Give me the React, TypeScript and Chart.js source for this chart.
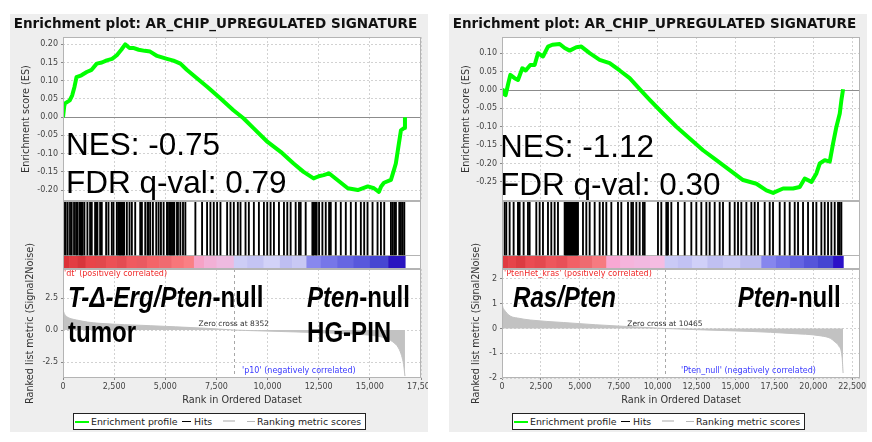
import React, { useEffect, useRef } from "react";
import { Chart, registerables } from "chart.js";
Chart.register(...registerables);

const SANS = "'DejaVu Sans', 'Noto Sans', sans-serif";
const ARIAL = "'Liberation Sans', Arial, sans-serif";

const TITLE = "Enrichment plot: AR_CHIP_UPREGULATED SIGNATURE";
const ES_AXIS_TITLE = "Enrichment score (ES)";
const METRIC_AXIS_TITLE = "Ranked list metric (Signal2Noise)";
const RANK_AXIS_TITLE = "Rank in Ordered Dataset";

// ---------------- LEFT panel data ----------------
const L_RANK_TICKS = [0, 2500, 5000, 7500, 10000, 12500, 15000, 17500];
const L_ES_TICKS = [-0.2, -0.15, -0.1, -0.05, 0, 0.05, 0.1, 0.15, 0.2];
const L_METRIC_TICKS = [-2.5, 0, 2.5];
const L_ES_RANKS = [0, 60, 100, 330, 450, 560, 660, 900, 1160, 1400, 1650, 1900, 2140, 2400, 2630, 2850, 3040, 3250, 3430, 3700, 4000, 4260, 4600, 5080, 5400, 5740, 6050, 6370, 7060, 7700, 8330, 8820, 9310, 10000, 10640, 11270, 11760, 12250, 12500, 12740, 13000, 13430, 13920, 14410, 14900, 15200, 15440, 15550, 15690, 16030, 16150, 16270, 16420, 16520, 16670, 16716];
const L_ES_VALUES = [0, 0.03, 0.038, 0.046, 0.06, 0.083, 0.11, 0.115, 0.124, 0.13, 0.147, 0.15, 0.156, 0.16, 0.17, 0.185, 0.2, 0.19, 0.19, 0.185, 0.182, 0.18, 0.168, 0.16, 0.155, 0.147, 0.13, 0.115, 0.083, 0.051, 0.019, -0.003, -0.03, -0.068, -0.095, -0.127, -0.15, -0.168, -0.162, -0.159, -0.154, -0.173, -0.195, -0.2, -0.19, -0.195, -0.205, -0.19, -0.18, -0.172, -0.15, -0.127, -0.072, -0.036, -0.03, 0];
const L_HITS = [49, 131, 229, 343, 425, 540, 638, 703, 801, 870, 915, 960, 1046, 1193, 1324, 1406, 1569, 1620, 1683, 1814, 1896, 2108, 2223, 2386, 2468, 2631, 2700, 2760, 2794, 2850, 2900, 2950, 2990, 3121, 3252, 3366, 3530, 3775, 3857, 4020, 4134, 4180, 4265, 4396, 4559, 4674, 4788, 4919, 5082, 5130, 5213, 5270, 5327, 5380, 5442, 5572, 5620, 5736, 5866, 5981, 6471, 6798, 7043, 7206, 7370, 7533, 7697, 8023, 8187, 8350, 8546, 8677, 8922, 9085, 9330, 9576, 9821, 9984, 10147, 10311, 10556, 10801, 10964, 11128, 11373, 11536, 11618, 11863, 12190, 12230, 12272, 12354, 12400, 12517, 12680, 12844, 13007, 13089, 13334, 13579, 13824, 14069, 14314, 14559, 14723, 14886, 15131, 15376, 15540, 15703, 16030, 16112, 16193, 16275, 16438, 16520, 16602, 16684];
const L_BAR_STARTS = [0, 300, 700, 1100, 1600, 2100, 2600, 3100, 3600, 4100, 4700, 5300, 5900, 6400, 6900, 7500, 8350, 9000, 9800, 10600, 11200, 11900, 12600, 13400, 14200, 15000, 15900];
const L_BAR_COLORS = ["#dc3238", "#e33c42", "#d8353b", "#e8444a", "#e2474c", "#ec5055", "#e44c52", "#f05a5f", "#ea5a60", "#f46468", "#f06a70", "#f8767a", "#fa8084", "#f6a2c6", "#f2b0d6", "#eebae0", "#cdcdf6", "#c4c4f4", "#d2d2f8", "#bebef2", "#c8c8f4", "#8888ee", "#7676e8", "#6666e2", "#5858dc", "#4646d2", "#2a14c0"];
const L_LIST_SIZE = 16716;
const L_METRIC_RANKS = [0, 60, 180, 400, 670, 1200, 1810, 3000, 4260, 5500, 6700, 7600, 8352, 9500, 11000, 12500, 13800, 15000, 15700, 16100, 16400, 16550, 16650, 16716];
const L_METRIC_VALUES = [1.6, 1.3, 1.05, 0.88, 0.78, 0.62, 0.52, 0.42, 0.34, 0.25, 0.16, 0.08, 0, -0.06, -0.13, -0.2, -0.28, -0.4, -0.6, -0.9, -1.4, -2.0, -2.7, -3.6];
const L_ZERO_CROSS = 8352;

// ---------------- RIGHT panel data ----------------
const R_RANK_TICKS = [0, 2500, 5000, 7500, 10000, 12500, 15000, 17500, 20000, 22500];
const R_ES_TICKS = [-0.25, -0.2, -0.15, -0.1, -0.05, 0, 0.05, 0.1];
const R_METRIC_TICKS = [-2, -1, 0, 1, 2];
const R_ES_RANKS = [0, 62, 233, 384, 534, 812, 1026, 1305, 1519, 1819, 2097, 2312, 2633, 2955, 3233, 3704, 4026, 4347, 4775, 5097, 5632, 6275, 6918, 7560, 8203, 8846, 9489, 10346, 11202, 12059, 12916, 13773, 14630, 15487, 16344, 16986, 17415, 18058, 18700, 19129, 19450, 19879, 20200, 20414, 20736, 21057, 21271, 21486, 21700, 21807, 21914];
const R_ES_VALUES = [0, -0.009, -0.014, 0.014, 0.041, 0.032, 0.027, 0.059, 0.053, 0.068, 0.068, 0.1, 0.091, 0.118, 0.123, 0.125, 0.114, 0.107, 0.116, 0.118, 0.1, 0.082, 0.073, 0.053, 0.032, 0.002, -0.027, -0.064, -0.1, -0.132, -0.164, -0.191, -0.218, -0.245, -0.255, -0.273, -0.28, -0.268, -0.268, -0.264, -0.241, -0.25, -0.227, -0.2, -0.191, -0.195, -0.145, -0.1, -0.064, -0.027, 0.002];
const R_HITS = [169, 276, 490, 747, 1026, 1080, 1133, 1390, 1669, 1776, 2204, 2418, 2632, 2954, 3168, 3382, 3596, 4025, 4080, 4132, 4190, 4239, 4290, 4346, 4400, 4453, 4510, 4560, 4610, 4667, 4720, 4774, 4830, 4882, 5203, 5417, 5631, 5953, 6274, 6488, 6702, 7024, 7452, 7666, 8095, 8309, 8416, 8630, 8844, 9058, 9165, 10021, 10235, 10556, 10610, 10663, 10879, 11307, 11736, 12164, 12485, 12807, 13128, 13342, 13664, 13985, 14199, 14628, 14949, 15163, 15377, 15699, 16020, 16234, 16448, 16877, 17198, 17412, 17841, 18162, 18483, 18805, 19019, 19340, 19661, 19983, 20197, 20518, 20732, 20947, 21161, 21375, 21589, 21696, 21803];
const R_BAR_STARTS = [0, 400, 900, 1500, 2100, 2800, 3500, 4200, 5000, 5800, 6700, 7600, 8500, 9500, 10450, 11300, 12200, 13200, 14200, 15300, 16660, 17600, 18500, 19400, 20300, 21270];
const R_BAR_COLORS = ["#e03a40", "#e6444a", "#dc3c42", "#ea4c52", "#e4484e", "#ee565c", "#e85058", "#f26066", "#ee6a70", "#f67a80", "#f8a8d4", "#f6b4dc", "#f2b8e0", "#f6bce2", "#cacaf6", "#c2c2f4", "#d0d0f8", "#c0c0f2", "#cacaf6", "#bcbcf0", "#8686ee", "#7474e8", "#6464e2", "#5454da", "#4444d2", "#2a10c8"];
const R_LIST_SIZE = 21914;
const R_METRIC_RANKS = [0, 60, 148, 533, 1000, 1819, 3940, 6000, 8000, 10465, 13000, 16000, 18500, 20500, 21100, 21400, 21614, 21850, 21914];
const R_METRIC_VALUES = [1.02, 0.85, 0.75, 0.5, 0.42, 0.34, 0.24, 0.15, 0.08, 0, -0.06, -0.12, -0.2, -0.3, -0.4, -0.55, -0.69, -1.16, -1.8];
const R_ZERO_CROSS = 10465;

const HIT_SPLIT = 14 / 68; // fraction of the hits strip used by the colour bar

type Part = { t: string; i: boolean };
type Big = { parts: Part[]; dx: number; dy: number };
type Cfg = {
  left: number;
  rankMax: number; rankTicks: number[];
  esMin: number; esMax: number; esTicks: number[]; esRanks: number[]; esValues: number[];
  hits: number[]; barStarts: number[]; barColors: string[]; listSize: number;
  mMin: number; mMax: number; mTicks: number[]; mDec: number; mRanks: number[]; mValues: number[];
  zeroCross: number;
  nes: string; fdr: string; nesDx: number; nesDy: number; fdrDy: number;
  esTitlePad: number; mTitlePad: number;
  posLabel: string; posDx: number; negLabel: string; negDx: number;
  bigs: Big[];
};

const LEFT: Cfg = {
  left: 10, rankMax: 17500, rankTicks: L_RANK_TICKS,
  esMin: -0.23, esMax: 0.22, esTicks: L_ES_TICKS, esRanks: L_ES_RANKS, esValues: L_ES_VALUES,
  hits: L_HITS, barStarts: L_BAR_STARTS, barColors: L_BAR_COLORS, listSize: L_LIST_SIZE,
  mMin: -3.75, mMax: 4.77, mTicks: L_METRIC_TICKS, mDec: 1, mRanks: L_METRIC_RANKS, mValues: L_METRIC_VALUES,
  zeroCross: L_ZERO_CROSS,
  nes: "NES: -0.75", fdr: "FDR q-val: 0.79", nesDx: 3, nesDy: 118, fdrDy: 156,
  esTitlePad: 10.4, mTitlePad: 15,
  posLabel: "'dt' (positively correlated)", posDx: 1,
  negLabel: "'p10' (negatively correlated)", negDx: 179,
  bigs: [
    { parts: [{ t: "T-\u0394-Erg/Pten", i: true }, { t: "-null", i: false }], dx: 5, dy: 38 },
    { parts: [{ t: "tumor", i: false }], dx: 5, dy: 73 },
    { parts: [{ t: "Pten", i: true }, { t: "-null", i: false }], dx: 244, dy: 38 },
    { parts: [{ t: "HG-PIN", i: false }], dx: 244, dy: 73 },
  ],
};

const RIGHT: Cfg = {
  left: 449, rankMax: 23000, rankTicks: R_RANK_TICKS,
  esMin: -0.302, esMax: 0.144, esTicks: R_ES_TICKS, esRanks: R_ES_RANKS, esValues: R_ES_VALUES,
  hits: R_HITS, barStarts: R_BAR_STARTS, barColors: R_BAR_COLORS, listSize: R_LIST_SIZE,
  mMin: -2, mMax: 2.4, mTicks: R_METRIC_TICKS, mDec: 0, mRanks: R_METRIC_RANKS, mValues: R_METRIC_VALUES,
  zeroCross: R_ZERO_CROSS,
  nes: "NES: -1.12", fdr: "FDR q-val: 0.30", nesDx: -2, nesDy: 119.7, fdrDy: 158,
  esTitlePad: 11.2, mTitlePad: 22,
  posLabel: "'PtenHet_kras' (positively correlated)", posDx: 2,
  negLabel: "'Pten_null' (negatively correlated)", negDx: 179,
  bigs: [
    { parts: [{ t: "Ras/Pten", i: true }], dx: 11, dy: 38 },
    { parts: [{ t: "Pten", i: true }, { t: "-null", i: false }], dx: 235.7, dy: 38 },
  ],
};

const PANEL_W = 418;
const BORDER = "#b4b4b4";
const GRID = "#d2d2d2";
const TICK_COLOR = "#444";

const areaPlugin = {
  id: "area",
  beforeDraw(chart: any) {
    const { ctx, chartArea: a } = chart;
    ctx.save();
    ctx.fillStyle = "#fff";
    ctx.fillRect(a.left, a.top, a.right - a.left, a.bottom - a.top);
    ctx.restore();
  },
  afterDraw(chart: any) {
    const { ctx, chartArea: a } = chart;
    ctx.save();
    ctx.strokeStyle = BORDER;
    ctx.lineWidth = 1;
    ctx.strokeRect(Math.round(a.left) + 0.5, Math.round(a.top) + 0.5, Math.round(a.right - a.left) - 1, Math.round(a.bottom - a.top) - 1);
    ctx.restore();
  },
};

const fixedTicks = (vals: number[]) => (s: any) => {
  s.ticks = vals.map((v) => ({ value: v }));
};

function makeES(canvas: HTMLCanvasElement, c: Cfg) {
  const esText = {
    id: "esText",
    beforeDatasetsDraw(chart: any) {
      const { ctx, chartArea: a } = chart;
      const y = chart.scales.y.getPixelForValue(0);
      ctx.save();
      ctx.strokeStyle = "#8c8c8c";
      ctx.lineWidth = 1;
      ctx.beginPath();
      ctx.moveTo(a.left, Math.round(y) + 0.5);
      ctx.lineTo(a.right, Math.round(y) + 0.5);
      ctx.stroke();
      ctx.restore();
    },
    afterDatasetsDraw(chart: any) {
      const { ctx, chartArea: a } = chart;
      ctx.save();
      ctx.fillStyle = "#000";
      ctx.textAlign = "left";
      ctx.textBaseline = "alphabetic";
      ctx.font = `31.5px ${ARIAL}`;
      ctx.fillText(c.nes, a.left + c.nesDx, a.top + c.nesDy);
      ctx.fillText(c.fdr, a.left + c.nesDx, a.top + c.fdrDy);
      ctx.restore();
    },
  };
  return new Chart(canvas, {
    type: "line",
    data: {
      datasets: [
        {
          data: c.esRanks.map((r, i) => ({ x: r, y: c.esValues[i] })),
          borderColor: "#00ff00",
          borderWidth: 4,
          pointRadius: 0,
          tension: 0,
          fill: false,
          borderJoinStyle: "round",
        } as any,
      ],
    },
    options: {
      animation: false,
      responsive: false,
      events: [],
      layout: { padding: { left: 0, right: 7, top: 0, bottom: 1 } },
      plugins: {
        legend: { display: false },
        tooltip: { enabled: false },
        title: {
          display: true,
          text: TITLE,
          color: "#111",
          font: { family: SANS, size: 13.5, weight: "bold" },
          padding: { top: 1.9, bottom: 4.9 },
        },
      },
      scales: {
        x: {
          type: "linear",
          min: 0,
          max: c.rankMax,
          offset: false,
          afterBuildTicks: fixedTicks(c.rankTicks),
          afterFit: (s: any) => { s.height = 0; s.paddingLeft = 0; s.paddingRight = 0; },
          ticks: { display: false },
          grid: { color: GRID, drawTicks: false },
          border: { display: false, dash: [2, 2] },
        },
        y: {
          type: "linear",
          min: c.esMin,
          max: c.esMax,
          afterBuildTicks: fixedTicks(c.esTicks),
          afterFit: (s: any) => { s.width = 53; s.paddingTop = 0; s.paddingBottom = 0; },
          ticks: {
            autoSkip: false,
            color: TICK_COLOR,
            padding: 3,
            font: { family: SANS, size: 8 },
            callback: (v: any) => Number(v).toFixed(2),
          },
          grid: {
            color: (ctx: any) => (ctx.tick && Math.abs(ctx.tick.value) < 1e-9 ? "rgba(0,0,0,0)" : GRID),
            tickColor: "#888",
            tickLength: 2,
          },
          border: { display: false, dash: [2, 2] },
          title: {
            display: true,
            text: ES_AXIS_TITLE,
            color: "#333",
            font: { family: SANS, size: 9.7 },
            padding: { top: c.esTitlePad, bottom: 0 },
          },
        },
      },
    } as any,
    plugins: [areaPlugin, esText],
  });
}

function makeHits(canvas: HTMLCanvasElement, c: Cfg) {
  const bar = {
    id: "colorBar",
    beforeDatasetsDraw(chart: any) {
      const { ctx, chartArea: a } = chart;
      const xs = chart.scales.x;
      const ys = chart.scales.y;
      const yTop = ys.getPixelForValue(HIT_SPLIT);
      const yBot = ys.getPixelForValue(0);
      ctx.save();
      for (let i = 0; i < c.barStarts.length; i++) {
        const x0 = xs.getPixelForValue(c.barStarts[i]);
        const x1 = xs.getPixelForValue(i + 1 < c.barStarts.length ? c.barStarts[i + 1] : c.listSize);
        ctx.fillStyle = c.barColors[i];
        ctx.fillRect(x0, yTop, x1 - x0 + 0.6, yBot - yTop);
      }
      ctx.strokeStyle = BORDER;
      ctx.lineWidth = 1;
      ctx.beginPath();
      ctx.moveTo(a.left, Math.round(yTop) + 0.5);
      ctx.lineTo(a.right, Math.round(yTop) + 0.5);
      ctx.stroke();
      ctx.restore();
    },
  };
  return new Chart(canvas, {
    type: "bar",
    data: {
      datasets: [
        {
          data: c.hits.map((r) => ({ x: r, y: [HIT_SPLIT, 1] })),
          backgroundColor: "#000",
          borderWidth: 0,
          barThickness: 1.2,
          grouped: false,
        } as any,
      ],
    },
    options: {
      animation: false,
      responsive: false,
      events: [],
      layout: { padding: { left: 53, right: 7, top: 0, bottom: 0 } },
      plugins: { legend: { display: false }, tooltip: { enabled: false } },
      scales: {
        x: { type: "linear", min: 0, max: c.rankMax, offset: false, display: false },
        y: { type: "linear", min: 0, max: 1, display: false },
      },
    } as any,
    plugins: [areaPlugin, bar],
  });
}

function drawParts(ctx: CanvasRenderingContext2D, x: number, y: number, parts: Part[]) {
  ctx.save();
  ctx.translate(x, y);
  ctx.scale(0.83, 1);
  let cx = 0;
  for (const p of parts) {
    ctx.font = `${p.i ? "italic " : ""}bold 29px ${ARIAL}`;
    ctx.fillText(p.t, cx, 0);
    cx += ctx.measureText(p.t).width;
  }
  ctx.restore();
}

function makeMetric(canvas: HTMLCanvasElement, c: Cfg) {
  const labels = {
    id: "metricLabels",
    beforeDatasetsDraw(chart: any) {
      const { ctx, chartArea: a } = chart;
      const x = Math.round(chart.scales.x.getPixelForValue(c.zeroCross)) + 0.5;
      ctx.save();
      ctx.strokeStyle = "#a8a8a8";
      ctx.lineWidth = 1;
      ctx.setLineDash([3, 3]);
      ctx.beginPath();
      ctx.moveTo(x, a.top);
      ctx.lineTo(x, a.bottom);
      ctx.stroke();
      ctx.restore();
    },
    afterDatasetsDraw(chart: any) {
      const { ctx, chartArea: a } = chart;
      ctx.save();
      ctx.textBaseline = "middle";
      ctx.textAlign = "left";
      ctx.font = `8px ${SANS}`;
      ctx.fillStyle = "#f02828";
      ctx.fillText(c.posLabel, a.left + c.posDx, a.top + 5);
      ctx.fillStyle = "#3a3aff";
      ctx.fillText(c.negLabel, a.left + c.negDx, a.top + 102);
      ctx.fillStyle = "#333";
      ctx.font = `7.5px ${SANS}`;
      ctx.textAlign = "center";
      ctx.fillText("Zero cross at " + c.zeroCross, chart.scales.x.getPixelForValue(c.zeroCross), a.top + 55);
      ctx.textAlign = "left";
      ctx.textBaseline = "alphabetic";
      ctx.fillStyle = "#000";
      for (const b of c.bigs) drawParts(ctx, a.left + b.dx, a.top + b.dy, b.parts);
      ctx.restore();
    },
  };
  return new Chart(canvas, {
    type: "line",
    data: {
      datasets: [
        {
          data: c.mRanks.map((r, i) => ({ x: r, y: c.mValues[i] })),
          fill: "origin",
          backgroundColor: "#c2c2c2",
          borderColor: "#c2c2c2",
          borderWidth: 1,
          pointRadius: 0,
          cubicInterpolationMode: "monotone",
        } as any,
      ],
    },
    options: {
      animation: false,
      responsive: false,
      events: [],
      layout: { padding: { left: 0, right: 7, top: 29, bottom: 2 } },
      plugins: { legend: { display: false }, tooltip: { enabled: false } },
      scales: {
        x: {
          type: "linear",
          min: 0,
          max: c.rankMax,
          offset: false,
          afterBuildTicks: fixedTicks(c.rankTicks),
          afterFit: (s: any) => { s.height = 28; s.paddingLeft = 0; s.paddingRight = 0; },
          ticks: {
            autoSkip: false,
            maxRotation: 0,
            color: TICK_COLOR,
            padding: 2,
            font: { family: SANS, size: 8 },
            callback: (v: any) => Number(v).toLocaleString("en-US"),
          },
          grid: { color: GRID, tickColor: "#888", tickLength: 2 },
          border: { display: false, dash: [2, 2] },
          title: {
            display: true,
            text: RANK_AXIS_TITLE,
            color: "#333",
            font: { family: SANS, size: 9.7 },
            padding: { top: 0, bottom: 0 },
          },
        },
        y: {
          type: "linear",
          min: c.mMin,
          max: c.mMax,
          afterBuildTicks: fixedTicks(c.mTicks),
          afterFit: (s: any) => { s.width = 53; s.paddingTop = 0; s.paddingBottom = 0; },
          ticks: {
            autoSkip: false,
            color: TICK_COLOR,
            padding: 3,
            font: { family: SANS, size: 8 },
            callback: (v: any) => Number(v).toFixed(c.mDec),
          },
          grid: { color: GRID, tickColor: "#888", tickLength: 2 },
          border: { display: false, dash: [2, 2] },
          title: {
            display: true,
            text: METRIC_AXIS_TITLE,
            color: "#333",
            font: { family: SANS, size: 9.7 },
            padding: { top: c.mTitlePad, bottom: 0 },
          },
        },
      },
    } as any,
    plugins: [areaPlugin, labels],
  });
}

function Legend({ left }: { left: number }) {
  const abs = (l: number, extra: any = {}) => ({ position: "absolute" as const, left: l, ...extra });
  return (
    <div
      style={{
        position: "absolute",
        left,
        top: 413,
        width: 293,
        height: 17,
        boxSizing: "border-box",
        border: "1px solid #222",
        background: "#fff",
        fontFamily: SANS,
        fontSize: 9.4,
        color: "#222",
        whiteSpace: "nowrap",
      }}
    >
      <span style={abs(1, { top: 6.5, width: 14, height: 2, background: "#00ff00" })} />
      <span style={abs(17, { top: 0, lineHeight: "15px" })}>Enrichment profile</span>
      <span style={abs(108, { top: 7, width: 9, height: 1, background: "#000" })} />
      <span style={abs(120, { top: 0, lineHeight: "15px" })}>Hits</span>
      <span style={abs(149, { top: 5.5, width: 12, height: 2.5, background: "#d4d4d4" })} />
      <span style={abs(173, { top: 7, width: 8, height: 1, background: "#b8b8b8" })} />
      <span style={abs(183, { top: 0, lineHeight: "15px" })}>Ranking metric scores</span>
    </div>
  );
}

function Panel({ cfg }: { cfg: Cfg }) {
  const esRef = useRef<HTMLCanvasElement>(null);
  const hitsRef = useRef<HTMLCanvasElement>(null);
  const mRef = useRef<HTMLCanvasElement>(null);
  useEffect(() => {
    const charts = [makeES(esRef.current!, cfg), makeHits(hitsRef.current!, cfg), makeMetric(mRef.current!, cfg)];
    return () => charts.forEach((ch) => ch.destroy());
  }, []);
  const cs = (top: number) => ({ position: "absolute" as const, left: cfg.left, top, display: "block" });
  return (
    <>
      <div style={{ position: "absolute", left: cfg.left, top: 14, width: PANEL_W, height: 418, background: "#eeeeee" }} />
      <canvas ref={esRef} width={PANEL_W} height={188} style={cs(14)} />
      <canvas ref={hitsRef} width={PANEL_W} height={68} style={cs(201)} />
      <canvas ref={mRef} width={PANEL_W} height={168} style={cs(240)} />
      <Legend left={cfg.left + 63} />
    </>
  );
}

export default function App() {
  return (
    <div style={{ position: "absolute", left: 0, top: 0, width: 872, height: 442, background: "#fff", overflow: "hidden" }}>
      <Panel cfg={LEFT} />
      <Panel cfg={RIGHT} />
    </div>
  );
}
